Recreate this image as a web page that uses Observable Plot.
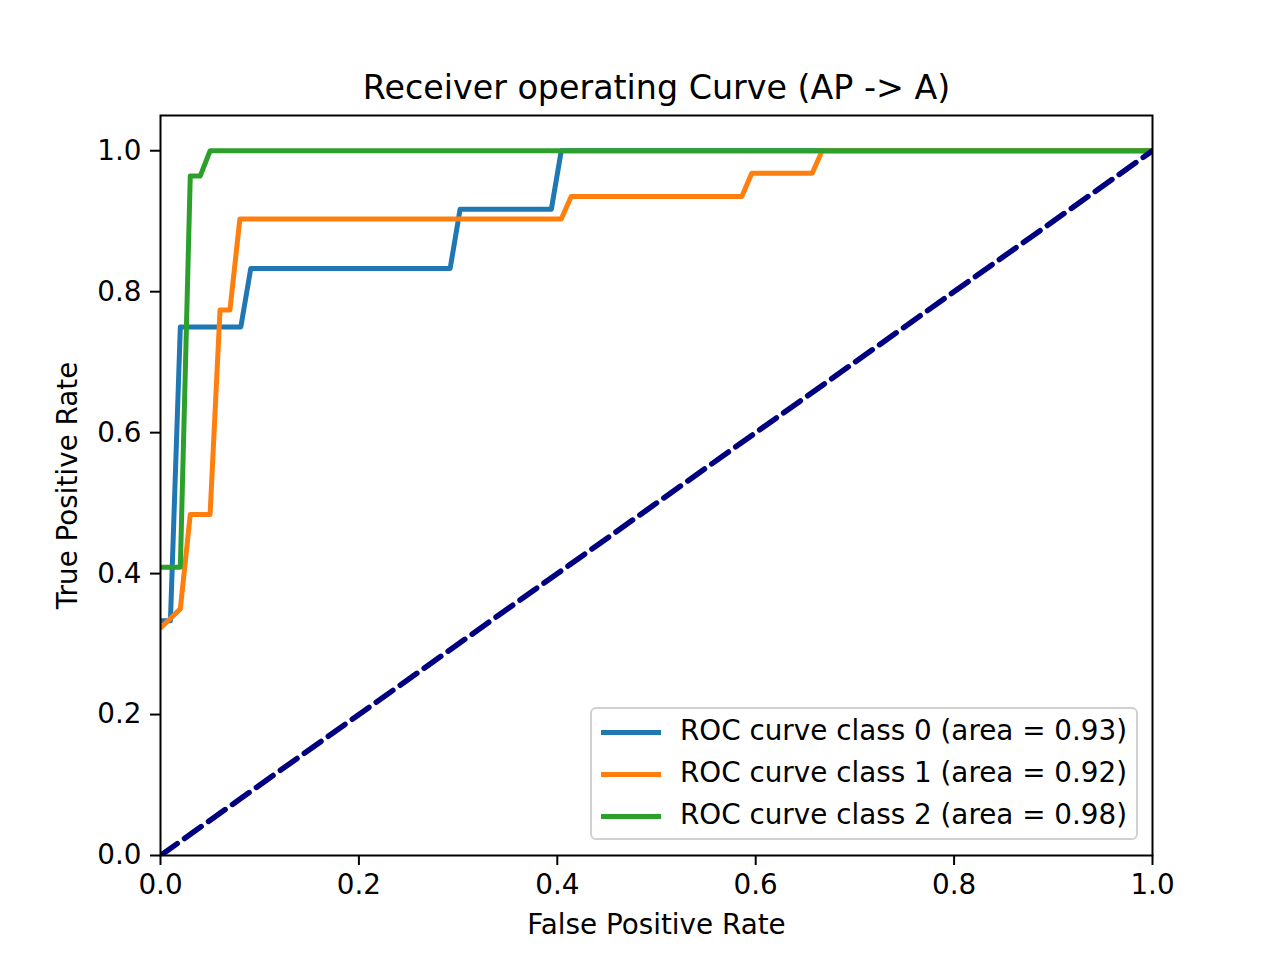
<!DOCTYPE html>
<html>
<head>
<meta charset="utf-8">
<script src="https://cdn.jsdelivr.net/npm/d3@7"></script>
<script src="https://cdn.jsdelivr.net/npm/@observablehq/plot@0.6"></script>
<style>
  html, body { margin: 0; padding: 0; background: #fff; }
  #wrap { position: relative; width: 1280px; height: 960px; font-family: "DejaVu Sans", sans-serif; }
  #legend { position: absolute; left: 590px; top: 707px; width: 544px; height: 129px;
    border: 2px solid #d0d0d0; border-radius: 6px; background: rgba(255,255,255,0.8); }
  .item { position: absolute; left: 0; height: 42px; width: 100%; }
  .sw { position: absolute; left: 9px; width: 60px; height: 0; border-top: 5px solid; top: 19px; }
  .lab { position: absolute; left: 88px; top: 3px; font-size: 27.8px; line-height: 34px; color: #000; white-space: nowrap; }
</style>
</head>
<body>
<div id="wrap"><div id="chart"></div><div id="legend"></div></div>
<script>
// ----- data -----
const class0Fpr = [0, 0.010, 0.020, 0.081, 0.091, 0.292, 0.302, 0.394, 0.404, 1.0];
const class0Tpr = [0.333, 0.333, 0.750, 0.750, 0.833, 0.833, 0.917, 0.917, 1.0, 1.0];
const class1Fpr = [0, 0.020, 0.030, 0.050, 0.060, 0.070, 0.080, 0.404, 0.414, 0.586, 0.596, 0.657, 0.667, 1.0];
const class1Tpr = [0.323, 0.350, 0.484, 0.484, 0.774, 0.774, 0.903, 0.903, 0.935, 0.935, 0.968, 0.968, 1.0, 1.0];
const class2Fpr = [0, 0.020, 0.030, 0.040, 0.050, 1.0];
const class2Tpr = [0.409, 0.409, 0.964, 0.964, 1.0, 1.0];
const diagX = [0, 1];
const diagY = [0, 1];
const seriesNames = ["ROC curve class 0 (area = 0.93)", "ROC curve class 1 (area = 0.92)", "ROC curve class 2 (area = 0.98)"];
const seriesColors = ["#1f77b4", "#ff7f0e", "#2ca02c"];
const xTicks = [0, 0.2, 0.4, 0.6, 0.8, 1.0];
const yTicks = [0, 0.2, 0.4, 0.6, 0.8, 1.0];
const titleText = "Receiver operating Curve (AP -> A)";
const xLabel = "False Positive Rate";
const yLabel = "True Positive Rate";

const toRows = (xs, ys) => xs.map((x, i) => ({x, y: ys[i]}));
const curves = [toRows(class0Fpr, class0Tpr), toRows(class1Fpr, class1Tpr), toRows(class2Fpr, class2Tpr)];
const diag = toRows(diagX, diagY);

const chart = Plot.plot({
  width: 1280,
  height: 960,
  marginLeft: 160,
  marginRight: 128,
  marginTop: 115,
  marginBottom: 105,
  style: {fontFamily: "DejaVu Sans, sans-serif", fontSize: "27.8px", color: "#000", background: "#fff"},
  x: {domain: [0, 1]},
  y: {domain: [0, 1.05]},
  marks: [
    ...curves.map((rows, i) => Plot.line(rows, {x: "x", y: "y", stroke: seriesColors[i], strokeWidth: 5, strokeLinejoin: "round", clip: true})),
    Plot.line(diag, {x: "x", y: "y", stroke: "#000080", strokeWidth: 5.5, strokeDasharray: "20.5,8.9", clip: true}),
    Plot.frame({stroke: "#000", strokeWidth: 2}),
    Plot.axisX(xTicks, {tickSize: 10, tickPadding: 9, tickFormat: d3.format(".1f"), strokeWidth: 2, label: null, fontSize: 27.8}),
    Plot.axisY(yTicks, {tickSize: 10, tickPadding: 9, tickFormat: d3.format(".1f"), strokeWidth: 2, label: null, fontSize: 27.8}),
    Plot.text([titleText], {text: d => d, frameAnchor: "top", dy: -27, fontSize: 33.3, lineAnchor: "middle"}),
    Plot.text([xLabel], {text: d => d, frameAnchor: "bottom", dy: 70, fontSize: 27.8, lineAnchor: "middle"}),
    Plot.text([yLabel], {text: d => d, frameAnchor: "left", dx: -92, rotate: -90, fontSize: 27.8, lineAnchor: "middle", textAnchor: "middle"})
  ]
});
document.getElementById("chart").appendChild(chart);

const legend = document.getElementById("legend");
seriesNames.forEach((name, i) => {
  const item = document.createElement("div");
  item.className = "item";
  item.style.top = (2 + i * 42) + "px";
  const sw = document.createElement("div");
  sw.className = "sw";
  sw.style.borderTopColor = seriesColors[i];
  const lab = document.createElement("div");
  lab.className = "lab";
  lab.textContent = name;
  item.appendChild(sw);
  item.appendChild(lab);
  legend.appendChild(item);
});
</script>
</body>
</html>
